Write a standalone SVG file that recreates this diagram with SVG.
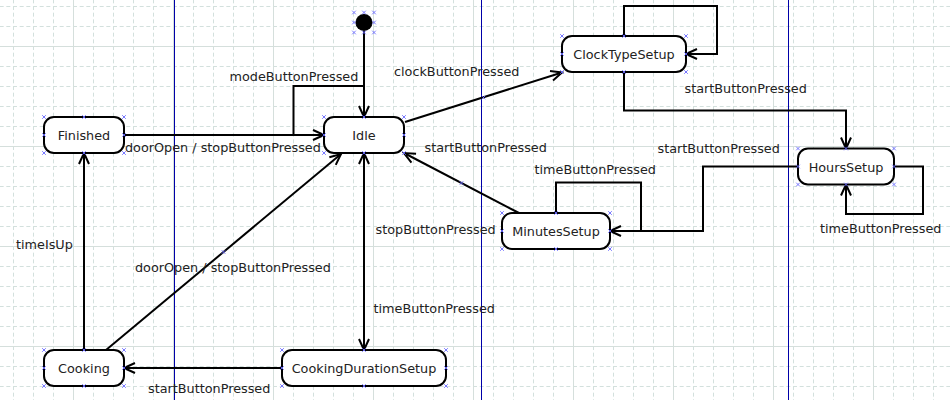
<svg xmlns="http://www.w3.org/2000/svg" xmlns:xlink="http://www.w3.org/1999/xlink" width="950" height="400" viewBox="0 0 950 400">
<style>
.node{fill:#fff;stroke:#000;stroke-width:2}
.edge{fill:none;stroke:#000;stroke-width:2}
.arr{marker-end:url(#ah)}
.lbl{font-family:"DejaVu Sans",Verdana,sans-serif;font-size:12.8px;fill:#222}
.nl{font-family:"DejaVu Sans",Verdana,sans-serif;font-size:12.8px;fill:#222;text-anchor:middle}
.guide{stroke:#0000a8;stroke-width:1}
</style>
<defs>
<pattern id="grid" patternUnits="userSpaceOnUse" x="-27" y="-54" width="100" height="100">
<g fill="none" stroke="#d3e0dd" stroke-width="1" stroke-dasharray="4 2.6667">
<path d="M20.5,0V100M40.5,0V100M60.5,0V100M80.5,0V100M0,20.5H100M0,40.5H100M0,60.5H100M0,80.5H100"/>
</g>
<path d="M0.5,0V100M0,0.5H100" fill="none" stroke="#d5dfdc" stroke-width="1"/>
</pattern>
<marker id="ah" markerUnits="userSpaceOnUse" viewBox="-13 -7 15 14" refX="0" refY="0" markerWidth="15" markerHeight="14" orient="auto-start-reverse">
<path d="M-11,-5L0,0L-11,5" fill="none" stroke="#000" stroke-width="2"/>
</marker>
<path id="x" d="M-1.8,-1.8L1.8,1.8M-1.8,1.8L1.8,-1.8" fill="none" stroke="#6a6aff" stroke-width="0.9"/>
</defs>
<rect width="950" height="400" fill="#fff"/>
<rect width="950" height="400" fill="url(#grid)"/>
<g id="guides">
<line class="guide" x1="174.5" y1="0" x2="174.5" y2="400"/>
<line class="guide" x1="481.5" y1="0" x2="481.5" y2="400"/>
<line class="guide" x1="788.5" y1="0" x2="788.5" y2="400"/>
</g>
<g id="connectors">
<path class="edge arr" d="M364,31V117"/>
<path class="edge" d="M293.5,135V86H364"/>
<path class="edge arr" d="M124,135H324"/>
<path class="edge arr" d="M405,122L562,72.5"/>
<path class="edge arr" d="M624,36V6H717V54H686"/>
<path class="edge arr" d="M624,72V110.5H846V148.5"/>
<path class="edge arr" d="M894,166.5H923V214H846V184.5"/>
<path class="edge arr" d="M798,166.5H703V231H610"/>
<path class="edge" d="M556,213V182.5H641V231"/>
<path class="edge arr" d="M519,213L404,153"/>
<path class="edge arr" d="M364,153V350" marker-start="url(#ah)"/>
<path class="edge arr" d="M282,368H124"/>
<path class="edge arr" d="M84,350V153"/>
<path class="edge arr" d="M106,350L341,154"/>
<use xlink:href="#x" x="483.5" y="97.5"/>
<use xlink:href="#x" x="461.5" y="183"/>
<use xlink:href="#x" x="223.5" y="252"/>
</g>
<g id="labels">
<text class="lbl" x="229.5" y="80.5">modeButtonPressed</text>
<text class="lbl" x="125" y="152">doorOpen / stopButtonPressed</text>
<text class="lbl" x="394" y="75.5">clockButtonPressed</text>
<text class="lbl" x="684.5" y="92.5">startButtonPressed</text>
<text class="lbl" x="657.5" y="152.5">startButtonPressed</text>
<text class="lbl" x="424.5" y="151.5">startButtonPressed</text>
<text class="lbl" x="534.5" y="174">timeButtonPressed</text>
<text class="lbl" x="375.5" y="233.5">stopButtonPressed</text>
<text class="lbl" x="820" y="232.5">timeButtonPressed</text>
<text class="lbl" x="16" y="249">timeIsUp</text>
<text class="lbl" x="135" y="271.5">doorOpen / stopButtonPressed</text>
<text class="lbl" x="373.5" y="312.5">timeButtonPressed</text>
<text class="lbl" x="148" y="392.5">startButtonPressed</text>
</g>
<g id="initial">
<circle cx="364" cy="22.5" r="8.5" fill="#000"/>
<use xlink:href="#x" x="354" y="12.5"/><use xlink:href="#x" x="364" y="12.5"/><use xlink:href="#x" x="374" y="12.5"/>
<use xlink:href="#x" x="354" y="22.5"/><use xlink:href="#x" x="374" y="22.5"/>
<use xlink:href="#x" x="354" y="32.5"/><use xlink:href="#x" x="364" y="32.5"/><use xlink:href="#x" x="374" y="32.5"/>
</g>
<g id="Finished">
<rect class="node" x="44" y="117" width="80" height="36" rx="10"/>
<text class="nl" x="84" y="139.5">Finished</text>
<use xlink:href="#x" x="44" y="117"/><use xlink:href="#x" x="84" y="117"/><use xlink:href="#x" x="124" y="117"/>
<use xlink:href="#x" x="44" y="135"/><use xlink:href="#x" x="124" y="135"/>
<use xlink:href="#x" x="44" y="153"/><use xlink:href="#x" x="84" y="153"/><use xlink:href="#x" x="124" y="153"/>
</g>
<g id="Idle">
<rect class="node" x="324" y="117" width="80" height="36" rx="10"/>
<text class="nl" x="364" y="139.5">Idle</text>
<use xlink:href="#x" x="324" y="117"/><use xlink:href="#x" x="364" y="117"/><use xlink:href="#x" x="404" y="117"/>
<use xlink:href="#x" x="324" y="135"/><use xlink:href="#x" x="404" y="135"/>
<use xlink:href="#x" x="324" y="153"/><use xlink:href="#x" x="364" y="153"/><use xlink:href="#x" x="404" y="153"/>
</g>
<g id="ClockTypeSetup">
<rect class="node" x="562" y="36" width="124" height="36" rx="10"/>
<text class="nl" x="624" y="59">ClockTypeSetup</text>
<use xlink:href="#x" x="562" y="36"/><use xlink:href="#x" x="624" y="36"/><use xlink:href="#x" x="686" y="36"/>
<use xlink:href="#x" x="562" y="54"/><use xlink:href="#x" x="686" y="54"/>
<use xlink:href="#x" x="562" y="72"/><use xlink:href="#x" x="624" y="72"/><use xlink:href="#x" x="686" y="72"/>
</g>
<g id="HoursSetup">
<rect class="node" x="798" y="148.5" width="96" height="36" rx="10"/>
<text class="nl" x="846" y="171.5">HoursSetup</text>
<use xlink:href="#x" x="798" y="148.5"/><use xlink:href="#x" x="846" y="148.5"/><use xlink:href="#x" x="894" y="148.5"/>
<use xlink:href="#x" x="798" y="166.5"/><use xlink:href="#x" x="894" y="166.5"/>
<use xlink:href="#x" x="798" y="184.5"/><use xlink:href="#x" x="846" y="184.5"/><use xlink:href="#x" x="894" y="184.5"/>
</g>
<g id="MinutesSetup">
<rect class="node" x="502" y="213" width="108" height="36" rx="10"/>
<text class="nl" x="556" y="236">MinutesSetup</text>
<use xlink:href="#x" x="502" y="213"/><use xlink:href="#x" x="556" y="213"/><use xlink:href="#x" x="610" y="213"/>
<use xlink:href="#x" x="502" y="231"/><use xlink:href="#x" x="610" y="231"/>
<use xlink:href="#x" x="502" y="249"/><use xlink:href="#x" x="556" y="249"/><use xlink:href="#x" x="610" y="249"/>
</g>
<g id="Cooking">
<rect class="node" x="44" y="350" width="80" height="36" rx="10"/>
<text class="nl" x="84" y="372.5">Cooking</text>
<use xlink:href="#x" x="44" y="350"/><use xlink:href="#x" x="84" y="350"/><use xlink:href="#x" x="124" y="350"/>
<use xlink:href="#x" x="44" y="368"/><use xlink:href="#x" x="124" y="368"/>
<use xlink:href="#x" x="44" y="386"/><use xlink:href="#x" x="84" y="386"/><use xlink:href="#x" x="124" y="386"/>
</g>
<g id="CookingDurationSetup">
<rect class="node" x="282" y="350" width="164" height="36" rx="10"/>
<text class="nl" x="364" y="372.5">CookingDurationSetup</text>
<use xlink:href="#x" x="282" y="350"/><use xlink:href="#x" x="364" y="350"/><use xlink:href="#x" x="446" y="350"/>
<use xlink:href="#x" x="282" y="368"/><use xlink:href="#x" x="446" y="368"/>
<use xlink:href="#x" x="282" y="386"/><use xlink:href="#x" x="364" y="386"/><use xlink:href="#x" x="446" y="386"/>
</g>
</svg>
